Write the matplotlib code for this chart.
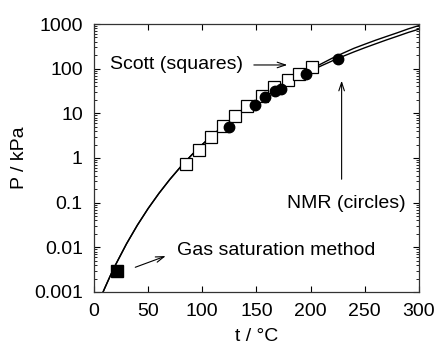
import matplotlib
matplotlib.use("Agg")
import matplotlib.pyplot as plt
from matplotlib.ticker import LogLocator, FixedLocator, NullFormatter

plt.rcParams['font.family'] = ['Liberation Sans', 'DejaVu Sans']

# Scott data (open squares)
scott_t = [84.6, 96.6, 108, 119, 130.5, 141.5, 154.8, 166.5, 179, 189.7, 201.3]
scott_P = [0.72, 1.51, 2.95, 5.13, 8.71, 14.45, 24.0, 38.0, 55.0, 77.6, 107]

# NMR data (filled circles)
nmr_t = [124.9, 148.6, 157.5, 167, 172.6, 195.7, 225.6]
nmr_P = [5.0, 15.5, 23.4, 32.4, 35.5, 76, 164]

# gas saturation point
gas_t = [21]
gas_P = [0.003]

# fitted curves
fit_t = [8, 10, 15, 20, 30, 40, 50, 60, 70, 80, 90, 100, 110, 120, 130, 140, 150,
         160, 170, 180, 190, 200, 210, 220, 230, 240, 250, 260, 270, 280, 290, 300]
fit_lo = [0.00095, 0.00123, 0.00229, 0.0041, 0.01195, 0.0312, 0.0741, 0.162, 0.331,
          0.636, 1.157, 2.01, 3.34, 5.36, 8.31, 12.5, 18.3, 26.2, 36.6, 50.2, 67.5,
          89.3, 116.4, 149.5, 189.6, 237.5, 294, 360, 440, 532, 646, 767]
fit_hi = [0.00095, 0.00123, 0.00229, 0.0041, 0.01195, 0.0312, 0.0741, 0.162, 0.331,
          0.636, 1.157, 2.01, 3.34, 5.36, 8.31, 12.5, 18.3, 26.2, 36.6, 51.4, 70.8,
          95.7, 129, 172, 223, 286, 353, 434, 526, 636, 776, 923]

ytick_vals = [0.001, 0.01, 0.1, 1, 10, 100, 1000]
ytick_labels = ['0.001', '0.01', '0.1', '1', '10', '100', '1000']

fig = plt.figure(figsize=(4.4, 3.52), dpi=100)
ax = fig.add_axes([0.2136, 0.1705, 0.7386, 0.7613])

ax.plot(fit_t, fit_lo, color='black', lw=1.0)
ax.plot(fit_t, fit_hi, color='black', lw=1.0)
ax.plot(scott_t, scott_P, 's', ms=8, mfc='white', mec='black', mew=0.9)
ax.plot(nmr_t, nmr_P, 'o', ms=7.5, color='black')
ax.plot(gas_t, gas_P, 's', ms=8, color='black')

ax.set_yscale('log')
ax.set_xlim(0, 300)
ax.set_ylim(0.001, 1000)
ax.xaxis.set_major_locator(FixedLocator([0, 50, 100, 150, 200, 250, 300]))
ax.set_yticks(ytick_vals)
ax.set_yticklabels(ytick_labels)
ax.yaxis.set_minor_locator(LogLocator(base=10, subs=range(2, 10), numticks=20))
ax.yaxis.set_minor_formatter(NullFormatter())

ax.tick_params(which='both', direction='in', top=True, right=True, labelsize=14, pad=8)
ax.tick_params(which='major', length=4.5, width=0.8)
ax.tick_params(which='minor', length=2.5, width=0.6)
for s in ax.spines.values():
    s.set_linewidth(0.9)
    s.set_color('#333333')

ax.set_xlabel('t / °C', fontsize=14, labelpad=6)
ax.set_ylabel('P / kPa', fontsize=14, labelpad=4)

# annotations
ax.text(15, 121, 'Scott (squares)', fontsize=14, ha='left', va='center')
ax.annotate('', xy=(181, 121), xytext=(145, 121),
            arrowprops=dict(arrowstyle='->, head_length=0.6, head_width=0.2', lw=0.8, color='black'))
ax.text(288, 0.098, 'NMR (circles)', fontsize=14, ha='right', va='center')
ax.annotate('', xy=(228.6, 62), xytext=(228.6, 0.29),
            arrowprops=dict(arrowstyle='->, head_length=0.6, head_width=0.2', lw=0.8, color='black'))
ax.text(77, 0.0087, 'Gas saturation method', fontsize=14, ha='left', va='center')
ax.annotate('', xy=(68.6, 0.0067), xytext=(35.7, 0.0034),
            arrowprops=dict(arrowstyle='->, head_length=0.6, head_width=0.2', lw=0.8, color='black'))

fig.savefig('out.png', dpi=100)
